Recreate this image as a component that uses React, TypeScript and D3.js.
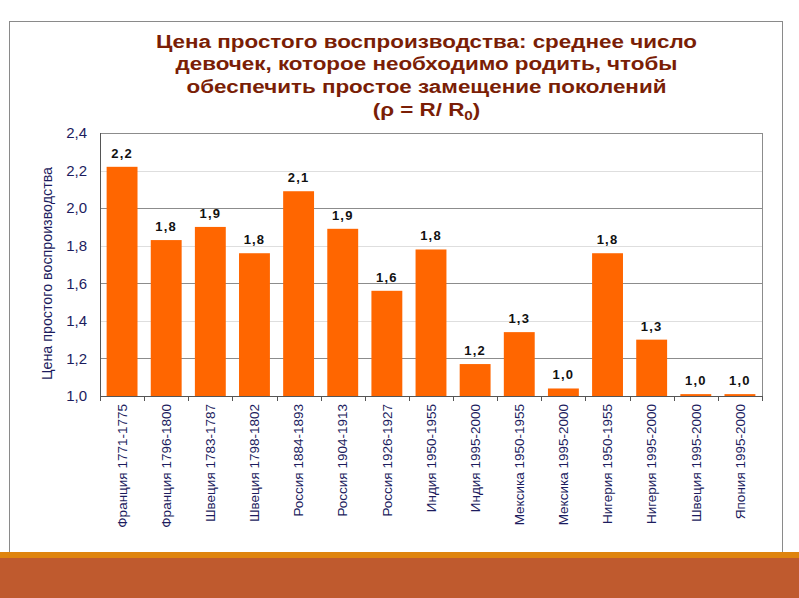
import React from 'react';
import * as d3 from 'd3';

// data
const categories = [
  'Франция 1771-1775',
  'Франция 1796-1800',
  'Швеция 1783-1787',
  'Швеция 1798-1802',
  'Россия 1884-1893',
  'Россия 1904-1913',
  'Россия 1926-1927',
  'Индия 1950-1955',
  'Индия 1995-2000',
  'Мексика 1950-1955',
  'Мексика 1995-2000',
  'Нигерия 1950-1955',
  'Нигерия 1995-2000',
  'Швеция 1995-2000',
  'Япония 1995-2000',
];
const values = [2.22, 1.83, 1.9, 1.76, 2.09, 1.89, 1.56, 1.78, 1.17, 1.34, 1.04, 1.76, 1.3, 1.01, 1.01];
const yTicks = [1.0, 1.2, 1.4, 1.6, 1.8, 2.0, 2.2, 2.4];
const titleLines = [
  'Цена простого воспроизводства: среднее число',
  'девочек, которое необходимо родить, чтобы',
  'обеспечить простое замещение поколений',
];
const yTitle = 'Цена простого воспроизводства';

const W = 799;
const H = 598;

const App = () => {
  // plot area
  const margin = { top: 133, right: 37, bottom: 202, left: 100 };
  const width = W - margin.left - margin.right;
  const height = H - margin.top - margin.bottom;

  const x = d3.scaleBand().domain(categories).range([0, width]).paddingInner(0.3).paddingOuter(0.15);
  const y = d3.scaleLinear().domain([1.0, 2.4]).range([height, 0]);
  const fmt = (v: number) => d3.format('.1f')(v).replace('.', ',');
  const step = x.step();
  const navy = '#1c1c5e';
  const font = 'Arial, "Liberation Sans", sans-serif';

  return (
    <svg width={W} height={H} style={{ position: 'absolute', left: 0, top: 0, background: '#fff' }} fontFamily={font}>
      {/* slide frame */}
      <rect x={0} y={0} width={W} height={H} fill="#fff" />
      <line x1={9.5} x2={9.5} y1={21} y2={552} stroke="#8a8a8a" />
      <line x1={782.5} x2={782.5} y1={21} y2={552} stroke="#8a8a8a" />
      <line x1={9.5} x2={782.5} y1={21.5} y2={21.5} stroke="#8a8a8a" />
      <rect x={0} y={552} width={W} height={6} fill="#DF840E" />
      <rect x={0} y={558} width={W} height={40} fill="#BF5A2E" />

      {/* title (the source slide is stretched sideways) */}
      <g transform="translate(426.5,0) scale(1.18,1)" fill="#7A1E06" fontWeight="bold" fontSize={19} textAnchor="middle">
        {titleLines.map((t, i) => (
          <text key={i} x={0} y={48 + i * 22.5}>{t}</text>
        ))}
        <text x={0} y={116}>
          (ρ = R/ R<tspan fontSize={13} dy={4}>0</tspan><tspan dy={-4}>)</tspan>
        </text>
      </g>

      <g transform={`translate(${margin.left},${margin.top})`}>
        {/* gridlines */}
        {yTicks.slice(1, -1).map((t, i) => (
          <line key={t} x1={0} x2={width} y1={Math.round(y(t)) + 0.5} y2={Math.round(y(t)) + 0.5}
            stroke={i % 2 === 0 ? '#8c8c8c' : '#dedede'} />
        ))}
        {/* plot border */}
        <rect x={0.5} y={0.5} width={width} height={height} fill="none" stroke="#8c8c8c" />

        {/* bars */}
        {categories.map((c, i) => (
          <rect key={c} x={x(c)} y={y(values[i])} width={x.bandwidth()} height={height - y(values[i])} fill="#FF6600" />
        ))}

        {/* value labels */}
        {categories.map((c, i) => (
          <text key={c} x={(x(c) as number) + x.bandwidth() / 2} y={y(values[i]) - 9}
            textAnchor="middle" fontSize={13} fontWeight="bold" letterSpacing={1.2} fill="#111">
            {fmt(values[i])}
          </text>
        ))}

        {/* y axis */}
        <line x1={0.5} x2={0.5} y1={0} y2={height} stroke="#555" />
        {yTicks.map((t) => (
          <text key={t} x={-13} y={y(t)} dy="0.35em" textAnchor="end" fontSize={15} fill={navy}>
            {fmt(t)}
          </text>
        ))}
        <text transform={`translate(${-48},${140.5}) rotate(-90)`} textAnchor="middle" fontSize={14}
          textLength={213} lengthAdjust="spacingAndGlyphs" fill={navy}>
          {yTitle}
        </text>

        {/* x axis */}
        <line x1={0} x2={width} y1={height + 0.5} y2={height + 0.5} stroke="#555" />
        {d3.range(categories.length + 1).map((i) => (
          <line key={i} x1={Math.round(i * step) + 0.5} x2={Math.round(i * step) + 0.5} y1={height} y2={height + 5} stroke="#555" />
        ))}
        {categories.map((c) => (
          <text key={c} transform={`translate(${(x(c) as number) + x.bandwidth() / 2},${height + 8}) rotate(-90)`}
            textAnchor="end" dy="0.35em" fontSize={13.5} fill={navy}>
            {c}
          </text>
        ))}
      </g>
    </svg>
  );
};

export default App;
